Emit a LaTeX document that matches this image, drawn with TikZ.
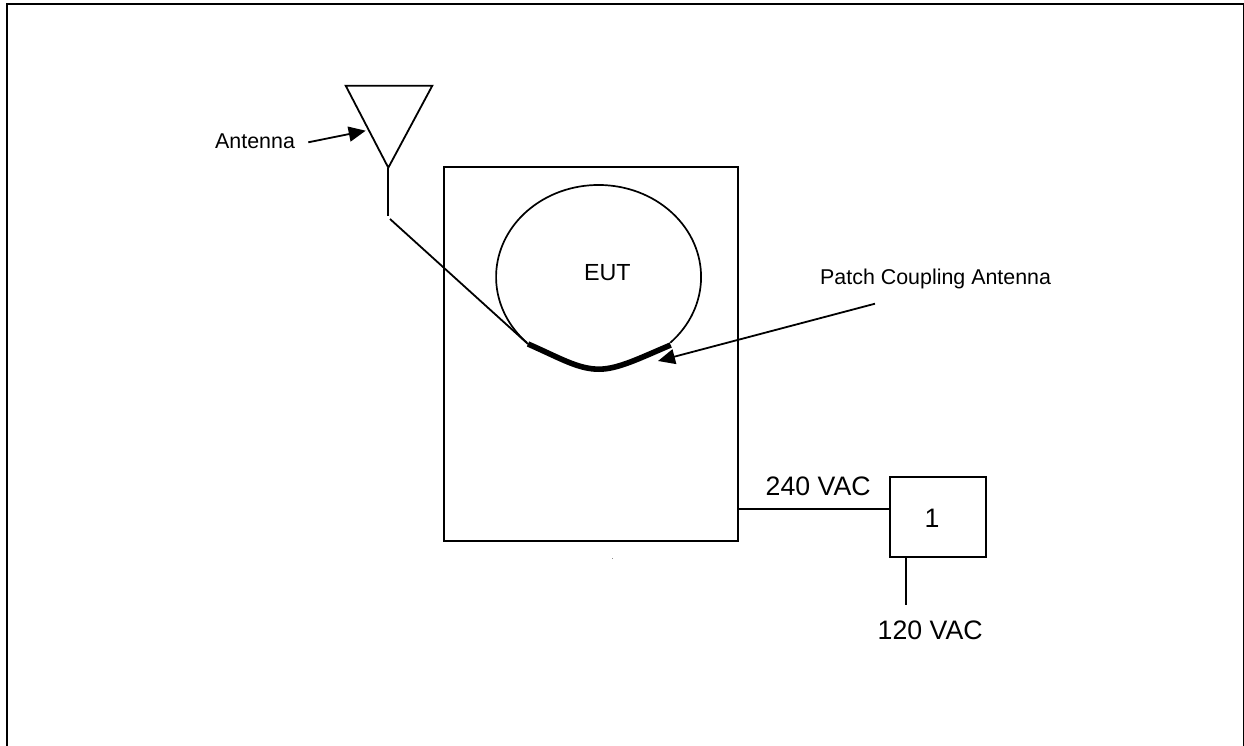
\documentclass[tikz,border=0pt]{standalone}
\usepackage{fontspec}
\setmainfont{Liberation Sans}
\usetikzlibrary{arrows.meta}
\tikzset{
  x=1pt,y=-1pt,
  thin line/.style={draw=black,line width=1.8pt},
  box line/.style={draw=black,line width=2pt,outer sep=0pt,inner sep=0pt,anchor=north west},
  pointer/.style={draw=black,line width=1.8pt,-{Triangle[length=17pt,width=15pt]}},
  small label/.style={inner sep=0pt,font=\fontsize{21.4}{24}\selectfont},
  big label/.style={inner sep=0pt,font=\fontsize{26.7}{30}\selectfont},
}
\begin{document}
\begin{tikzpicture}
\useasboundingbox (0,0) rectangle (1244,746);
\fill[white] (0,0) rectangle (1244,746);
\draw[black,line width=2.2pt] (7,760) -- (7,4.3) -- (1243.7,4.3) -- (1243.7,760);
% cabinet
\node[box line,minimum width=294pt,minimum height=373.5pt] (cabinet) at (444,167.5) {};
% EUT outline
\coordinate (ellR) at (670.3,342.7);
\coordinate (ellL) at (526.7,342.7);
\draw[black,line width=1.7pt] (ellR) arc[start angle=-45.6,end angle=225.6,x radius=102.5pt,y radius=92pt];
\node[inner sep=0pt,font=\fontsize{23.3}{26}\selectfont] (eutlabel) at (607.3,272.5) {EUT};
% antenna
\coordinate (tl) at (345.7,85.7);
\coordinate (tr) at (432.3,85.7);
\coordinate (tip) at (388.3,167.7);
\coordinate (stub) at (388.3,216);
\coordinate (feedstart) at (390,219);
\coordinate (patchL) at (528,344);
\coordinate (patchB) at (599,369.2);
\coordinate (patchR) at (670.7,345);
\draw[thin line,line join=miter] (tl) -- (tr) -- (tip) -- cycle;
\draw[thin line] (tip) -- (stub);
\draw[thin line] (feedstart) -- (patchL);
% patch
\draw[black,line width=5.6pt] (patchL) .. controls (560,358) and (578,369.2) .. (patchB) .. controls (618,369.2) and (640,358) .. (patchR);
% antenna label
\node[small label,anchor=west] (antlabel) at (215,141.7) {Antenna};
\coordinate (antfrom) at (308.3,142.3);
\coordinate (antto) at (365.7,130.7);
\draw[pointer] (antfrom) -- (antto);
% patch label
\node[small label,anchor=west] (patchlabel) at (820,279) {Patch Coupling Antenna};
\coordinate (pfrom) at (875,303.7);
\coordinate (pto) at (658,361);
\draw[pointer] (pfrom) -- (pto);
% box 1
\node[box line,minimum width=96pt,minimum height=80pt] (box) at (890,477) {};
\node[big label] (one) at (932,518.5) {1};
\coordinate (cabR) at (738,509);
\coordinate (boxL) at (890,509);
\draw[thin line] (cabR) -- (boxL);
\node[big label,anchor=west] (v240) at (765.5,486.7) {240 VAC};
\coordinate (boxB) at (905.7,557);
\coordinate (leadEnd) at (905.7,604.5);
\draw[thin line] (boxB) -- (leadEnd);
\node[big label,anchor=west] (v120) at (877.5,630.7) {120 VAC};
\fill[black!45] (612,557.5) rectangle (613.2,558.7);
\end{tikzpicture}
\end{document}
